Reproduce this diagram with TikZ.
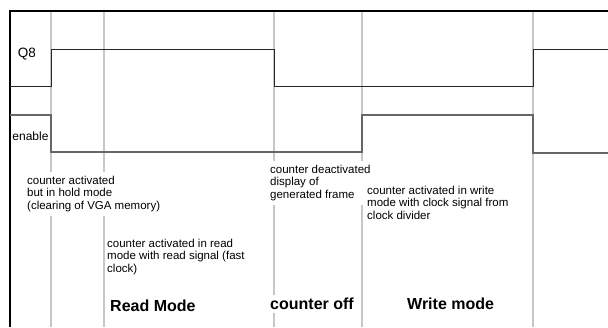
\documentclass[tikz,border=0pt]{standalone}
\usepackage{fontspec}
\setmainfont{Liberation Sans}
\usepackage{tikz}
\usetikzlibrary{positioning}

\begin{document}
\begin{tikzpicture}[x=1pt, y=-1pt,
    grid/.style={draw=black!22, line width=1.2pt},
    frame/.style={draw=black, line width=2pt},
    sigq/.style={draw=black!85, line width=1pt},
    sigen/.style={draw=black!60, line width=1.1pt},
    note/.style={anchor=north west, fill=white, align=left, inner xsep=1pt, inner ysep=4pt,
        font=\fontsize{11.5}{12.4}\selectfont},
    phase/.style={anchor=west, fill=white, inner xsep=1pt, inner ysep=3pt,
        font=\bfseries\fontsize{16}{18}\selectfont}]
    \useasboundingbox (0,0) rectangle (608,327);

    % Trennlinien der Phasen
    \foreach \xx in {51,104,274,362,533}
        \draw[grid] (\xx,11) -- (\xx,327);

    % Rahmen
    \draw[frame] (10,327) -- (10,11) -- (608,11);

    % Q8
    \node (q8) at (27,54) {\fontsize{13.5}{15}\selectfont Q8};
    \draw[sigq] (10,86) -- (51,86) -- (51,49) -- (274,49) -- (274,86)
        -- (533,86) -- (533,49) -- (608,49);

    % enable
    \node (en) at (30.5,136) {\fontsize{12}{14}\selectfont enable};
    \draw[sigen] (10,115) -- (51,115) -- (51,152) -- (362,152) -- (362,115)
        -- (533,115) -- (533,153) -- (608,153);

    % Beschreibungen
    \node[note] (hold) at (26,172) {counter activated\\but in hold mode\\(clearing of VGA memory)};
    \node[note] (read) at (106,235) {counter activated in read\\mode with read signal (fast\\clock)};
    \node[note] (off) at (269,161) {counter deactivated\\display of\\generated frame};
    \node[note] (write) at (366,182) {counter activated in write\\mode with clock signal from\\clock divider};

    % Phasen
    \node[phase] (readm) at (109,306) {Read Mode};
    \node[phase] (offm) at (269,304) {counter off};
    \node[phase] (writem) at (406,304) {Write mode};
\end{tikzpicture}
\end{document}
